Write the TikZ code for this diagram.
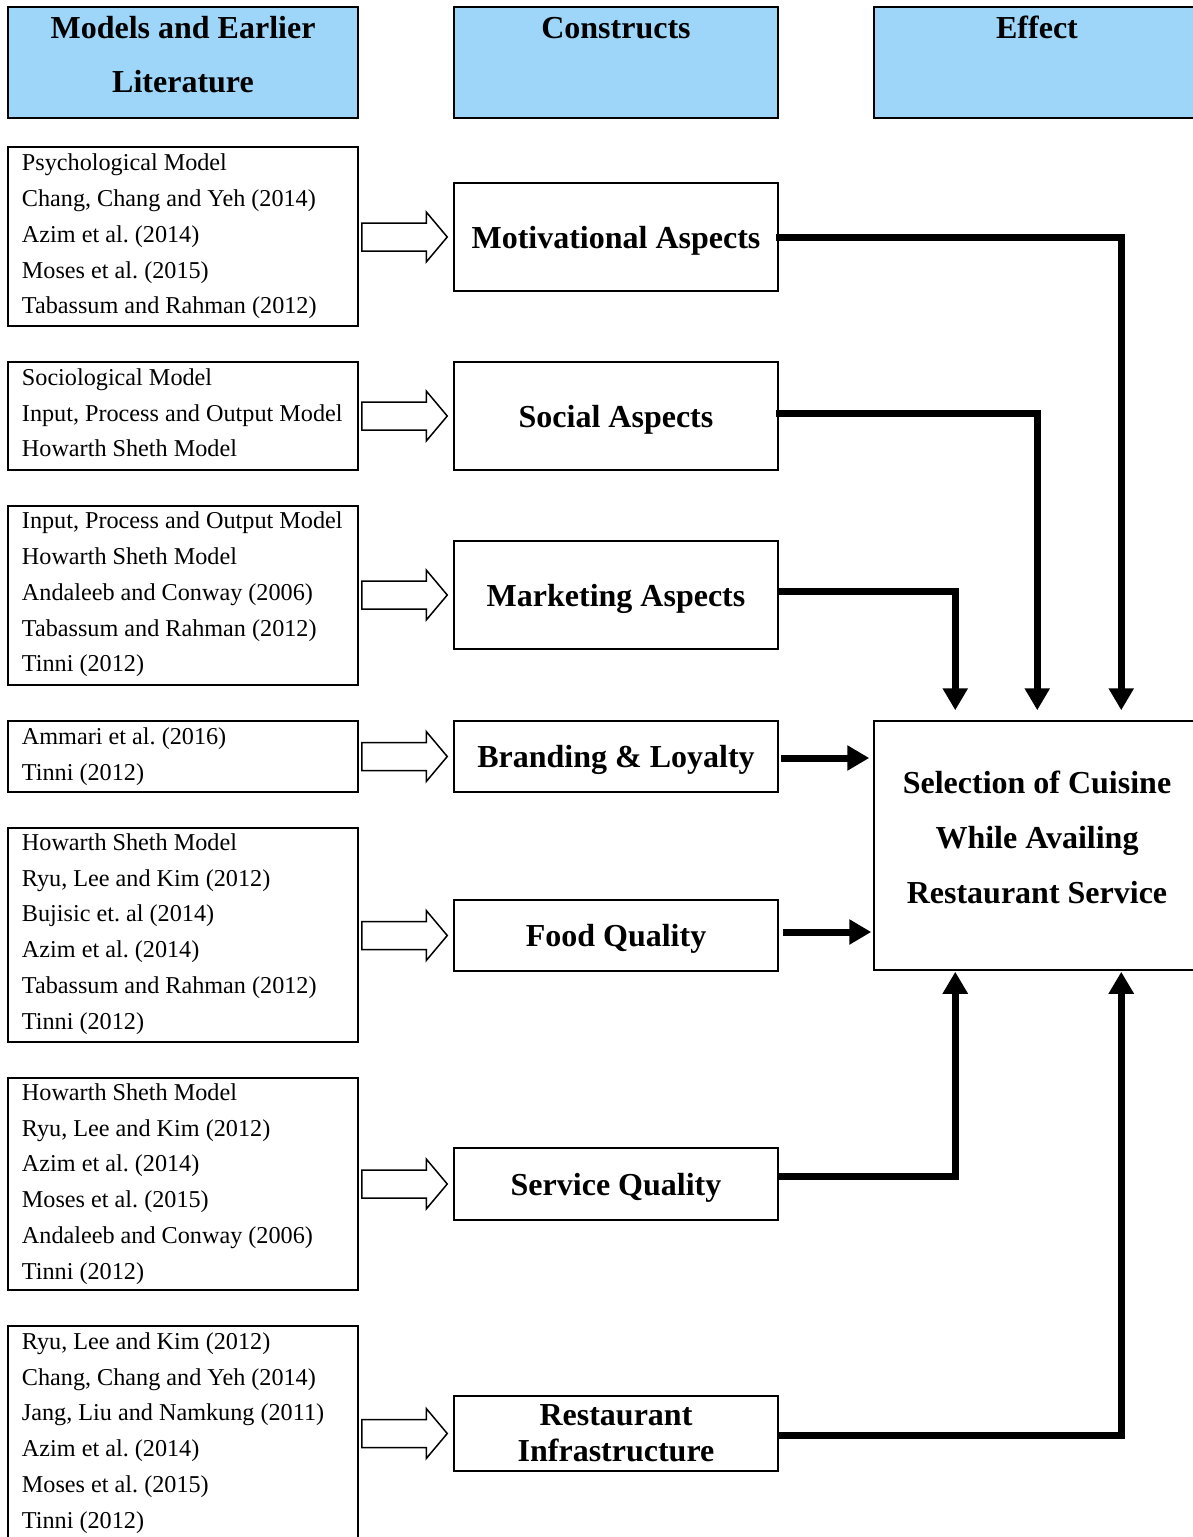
\documentclass[tikz,border=0pt]{standalone}
\usepackage{fontspec}
\setmainfont{Liberation Serif}
\usetikzlibrary{calc,arrows.meta}
\frenchspacing

\definecolor{hdrblue}{HTML}{9DD6F8}

\tikzset{
  frame/.style={draw, line width=1.5pt, rectangle, inner sep=0pt},
  hdrbox/.style={frame, fill=hdrblue, minimum height=111pt},
  hdrtext/.style={font=\fontsize{32}{54}\selectfont\bfseries, align=center, inner sep=0pt},
  litbox/.style={frame, minimum width=350pt},
  littext/.style={align=left, inner sep=0pt, anchor=west,
    font=\fontsize{24.2}{35.7}\selectfont},
  cbox/.style={frame, minimum width=324pt, align=center, text depth=0pt,
    font=\fontsize{32}{36}\selectfont\bfseries},
  effbox/.style={frame, minimum width=326pt, minimum height=249pt},
  efftext/.style={font=\fontsize{32}{55}\selectfont\bfseries, align=center, inner sep=0pt},
  hollow/.style={draw, line width=1.5pt, fill=white, line join=miter},
  conn/.style={line width=7pt, line join=miter, -{Triangle[width=24pt,length=22pt]}},
}

% literature box: [#1 text offset] #2 name, #3 vertical centre, #4 height, #5 lines
\newcommand\litentry[5][0]{%
  \node[litbox, minimum height=#4pt] (#2) at (183,#3) {};
  \node[littext] (#2t) at ($(#2.west)+(14.5,#1)$) {#5};}

% hollow block arrow from the literature box #1 to the construct box #2
\newcommand\fatarrow[2]{%
  \coordinate (fa-s) at ($(#1.east |- #2.west)+(3,0)$);
  \coordinate (fa-t) at ($(#2.west)+(-6,0)$);
  \draw[hollow] ($(fa-s)+(0,-14)$) -- ($(fa-t)+(-21,-14)$) -- ($(fa-t)+(-21,-25)$)
    -- (fa-t) -- ($(fa-t)+(-21,25)$) -- ($(fa-t)+(-21,14)$) -- ($(fa-s)+(0,14)$) -- cycle;}

\begin{document}
\begin{tikzpicture}[x=1pt,y=-1pt]
\useasboundingbox (0,0) rectangle (1193,1537);
\clip (0,0) rectangle (1193,1537);

% column headers
\node[hdrbox, minimum width=350pt] (H1) at (183,62.5) {};
\node[hdrbox, minimum width=324pt] (H2) at (616,62.5) {};
\node[hdrbox, minimum width=326pt] (H3) at (1037,62.5) {};
\node[hdrtext] (H1t) at (183,55) {Models and Earlier\\Literature};
\node[hdrtext, anchor=base] (H2t) at (616,38) {Constructs};
\node[hdrtext, anchor=base] (H3t) at (1037,38) {Effect};

% literature boxes
\litentry{L1}{236.5}{179}{Psychological Model\\Chang, Chang and Yeh (2014)\\Azim et al. (2014)\\Moses et al. (2015)\\Tabassum and Rahman (2012)}
\litentry[-3]{L2}{416}{108}{Sociological Model\\Input, Process and Output Model\\Howarth Sheth Model}
\litentry[-1]{L3}{595.5}{179}{Input, Process and Output Model\\Howarth Sheth Model\\Andaleeb and Conway (2006)\\Tabassum and Rahman (2012)\\Tinni (2012)}
\litentry{L4}{756.5}{71}{Ammari et al. (2016)\\Tinni (2012)}
\litentry[-1]{L5}{935}{214}{Howarth Sheth Model\\Ryu, Lee and Kim (2012)\\Bujisic et. al (2014)\\Azim et al. (2014)\\Tabassum and Rahman (2012)\\Tinni (2012)}
\litentry{L6}{1184}{212}{Howarth Sheth Model\\Ryu, Lee and Kim (2012)\\Azim et al. (2014)\\Moses et al. (2015)\\Andaleeb and Conway (2006)\\Tinni (2012)}
\litentry{L7}{1433}{214}{Ryu, Lee and Kim (2012)\\Chang, Chang and Yeh (2014)\\Jang, Liu and Namkung (2011)\\Azim et al. (2014)\\Moses et al. (2015)\\Tinni (2012)}

% construct boxes
\node[cbox, minimum height=108pt] (M1) at (616,237) {Motivational Aspects};
\node[cbox, minimum height=108pt] (M2) at (616,416) {Social Aspects};
\node[cbox, minimum height=108pt] (M3) at (616,595) {Marketing Aspects};
\node[cbox, minimum height=71pt] (M4) at (616,756.5) {Branding \& Loyalty};
\node[cbox, minimum height=71pt] (M5) at (616,935.5) {Food Quality};
\node[cbox, minimum height=72pt] (M6) at (616,1184) {Service Quality};
\node[cbox, minimum height=75pt] (M7) at (616,1433.5) {Restaurant\\Infrastructure};

% effect box
\node[effbox] (E) at (1037,845.5) {};
\node[efftext] (Et) at (1037,837) {Selection of Cuisine\\While Availing\\Restaurant Service};

% literature -> constructs
\fatarrow{L1}{M1}
\fatarrow{L2}{M2}
\fatarrow{L3}{M3}
\fatarrow{L4}{M4}
\fatarrow{L5}{M5}
\fatarrow{L6}{M6}
\fatarrow{L7}{M7}

% constructs -> effect
\draw[conn] ($(M1.east)+(-3,0)$) -| ($(E.north west)+(248,-10)$);
\draw[conn] ($(M2.east)+(-3,-3)$) -| ($(E.north west)+(164,-10)$);
\draw[conn] ($(M3.east)+(0,-4)$) -| ($(E.north west)+(82,-10)$);
\draw[conn] ($(M4.east)+(2,1.5)$) -- ($(E.west |- M4.east)+(-4,1.5)$);
\draw[conn] ($(M5.east)+(4,-3.5)$) -- ($(E.west |- M5.east)+(-2,-3.5)$);
\draw[conn] ($(M6.east)+(0,-8)$) -| ($(E.south west)+(82,1)$);
\draw[conn] ($(M7.east)+(0,2)$) -| ($(E.south west)+(248,1)$);
\end{tikzpicture}
\end{document}
